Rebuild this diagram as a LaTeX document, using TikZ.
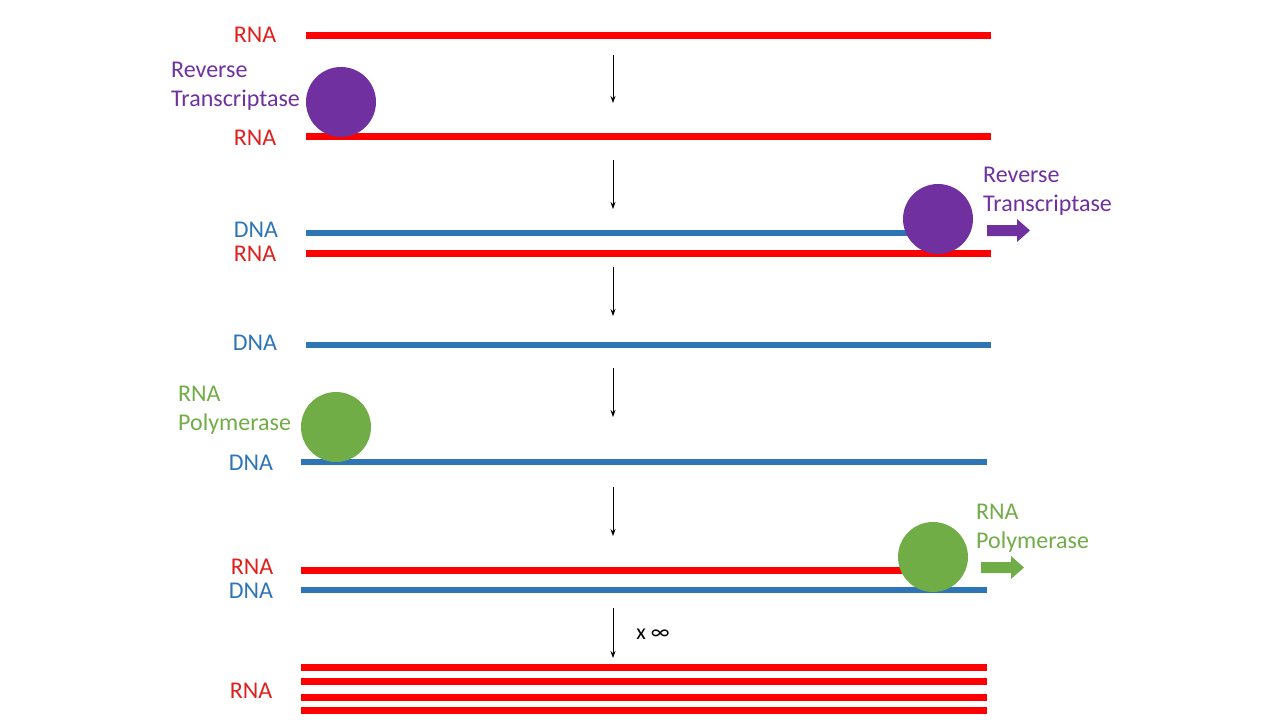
\documentclass[tikz,border=0pt]{standalone}
\usepackage{fontspec}
\setmainfont{Carlito}
\usetikzlibrary{arrows.meta}
\definecolor{rnared}{HTML}{FF0000}
\definecolor{rnatext}{HTML}{E0201C}
\definecolor{dnablue}{HTML}{2E75B6}
\definecolor{rtpurple}{HTML}{7030A0}
\definecolor{polgreen}{HTML}{70AD47}
\tikzset{
  rna/.style={draw=rnared, line width=7pt},
  dna/.style={draw=dnablue, line width=6pt},
  lbl/.style={font=\fontsize{24}{29}\selectfont, inner sep=0pt},
  rnalbl/.style={lbl, text=rnatext},
  dnalbl/.style={lbl, text=dnablue},
  rtlbl/.style={lbl, text=rtpurple, align=left},
  pollbl/.style={lbl, text=polgreen, align=left},
  stepar/.style={-{Stealth[length=7pt,width=5pt]}, line width=0.8pt, black},
  enzyme/.style={circle, minimum size=70pt, inner sep=0pt},
}
\begin{document}
\begin{tikzpicture}[x=1pt,y=-1pt]
\useasboundingbox (0,0) rectangle (1280,720);

% step 1
\coordinate (r1a) at (306,35); \coordinate (r1b) at (991,35);
\draw[rna] (r1a) -- (r1b);
\node[rnalbl] (l1) at (255,35) {RNA};
\coordinate (a1s) at (613,55); \coordinate (a1e) at (613,103);
\draw[stepar] (a1s) -- (a1e);

% step 2
\coordinate (r2a) at (306,136); \coordinate (r2b) at (991,136);
\draw[rna] (r2a) -- (r2b);
\node[rnalbl] (l2) at (255,138) {RNA};
\node[enzyme, fill=rtpurple] (rt1) at (341,102) {};
\node[rtlbl, anchor=west] (rt1l) at (171,86) {Reverse\\Transcriptase};
\coordinate (a2s) at (613,160); \coordinate (a2e) at (613,209);
\draw[stepar] (a2s) -- (a2e);

% step 3
\coordinate (d3a) at (306,233); \coordinate (d3b) at (940,233);
\draw[dna] (d3a) -- (d3b);
\coordinate (r3a) at (306,253); \coordinate (r3b) at (991,253);
\draw[rna] (r3a) -- (r3b);
\node[dnalbl] (l3d) at (256,230) {DNA};
\node[rnalbl] (l3r) at (255,254) {RNA};
\node[enzyme, fill=rtpurple] (rt2) at (938,219) {};
\node[rtlbl, anchor=west] (rt2l) at (983,191.5) {Reverse\\Transcriptase};
\fill[rtpurple] (987,225) -- (1017,225) -- (1017,219) -- (1030,230.5) -- (1017,242) -- (1017,236) -- (987,236) -- cycle;
\coordinate (a3s) at (613,267); \coordinate (a3e) at (613,316);
\draw[stepar] (a3s) -- (a3e);

% step 4
\coordinate (d4a) at (306,345); \coordinate (d4b) at (991,345);
\draw[dna] (d4a) -- (d4b);
\node[dnalbl] (l4) at (255,343) {DNA};
\coordinate (a4s) at (613,368); \coordinate (a4e) at (613,417);
\draw[stepar] (a4s) -- (a4e);

% step 5
\coordinate (d5a) at (301,462); \coordinate (d5b) at (987,462);
\draw[dna] (d5a) -- (d5b);
\node[dnalbl] (l5) at (251,463) {DNA};
\node[enzyme, fill=polgreen] (pol1) at (336,427) {};
\node[pollbl, anchor=west] (pol1l) at (178,410) {RNA\\Polymerase};
\coordinate (a5s) at (613,487); \coordinate (a5e) at (613,536);
\draw[stepar] (a5s) -- (a5e);

% step 6
\coordinate (r6a) at (301,570); \coordinate (r6b) at (930,570);
\draw[rna] (r6a) -- (r6b);
\coordinate (d6a) at (301,590); \coordinate (d6b) at (987,590);
\draw[dna] (d6a) -- (d6b);
\node[rnalbl] (l6r) at (252,567) {RNA};
\node[dnalbl] (l6d) at (251,591) {DNA};
\node[enzyme, fill=polgreen] (pol2) at (933,557) {};
\node[pollbl, anchor=west] (pol2l) at (976,528) {RNA\\Polymerase};
\fill[polgreen] (981,562) -- (1011,562) -- (1011,556) -- (1024,567.5) -- (1011,579) -- (1011,573) -- (981,573) -- cycle;
\coordinate (a6s) at (613,608); \coordinate (a6e) at (613,658);
\draw[stepar] (a6s) -- (a6e);
\node[lbl, font=\fontsize{22}{24}\selectfont] (xinf) at (653,634) {x ∞};

% step 7
\foreach \yy [count=\i] in {667,681,697,710} {
  \coordinate (r7a\i) at (301,\yy); \coordinate (r7b\i) at (987,\yy);
  \draw[rna] (r7a\i) -- (r7b\i);
}
\node[rnalbl] (l7) at (251,691) {RNA};
\end{tikzpicture}
\end{document}
